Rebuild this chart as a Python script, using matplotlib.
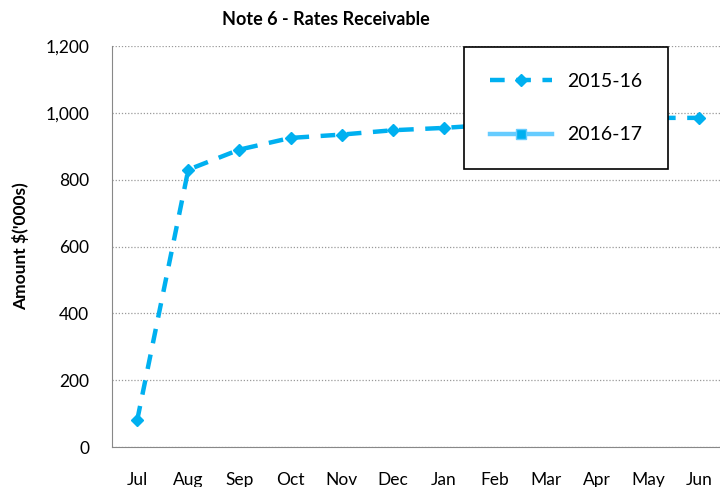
import numpy as np
import matplotlib.pyplot as plt
from matplotlib.ticker import FuncFormatter

months = ["Jul", "Aug", "Sep", "Oct", "Nov", "Dec", "Jan", "Feb", "Mar", "Apr", "May", "Jun"]
rates_1516 = [80, 830, 890, 925, 935, 948, 955, 965, 972, 978, 985, 985]
rates_1617 = [np.nan] * 12  # no data yet

plt.rcParams['font.family'] = ['Lato', 'DejaVu Sans']

fig = plt.figure(figsize=(7.2, 4.87), dpi=100)
ax = fig.add_axes([0.155, 0.082, 0.852, 0.8235])

x = np.arange(len(months))
ax.plot(x, rates_1516, color="#00B0F0", linestyle=(0, (3.3, 2.6)), linewidth=3.2,
        marker="D", markersize=6.5, label="2015-16", zorder=3)
ax.plot(x, rates_1617, color="#66CCFF", linewidth=3.2, marker="s", markersize=7,
        markerfacecolor="#00B0F0", markeredgecolor="#66CCFF", label="2016-17")

ax.set_xlim(-0.5, 11.5)
ax.set_ylim(0, 1200)
ax.set_yticks(range(0, 1201, 200))
ax.yaxis.set_major_formatter(FuncFormatter(lambda v, p: f"{int(v):,}"))
ax.set_xticks(x)
ax.set_xticklabels(months)
ax.tick_params(axis="x", length=0, pad=18, labelsize=12.5)
ax.tick_params(axis="y", length=0, pad=16, labelsize=12.5)

ax.grid(axis="y", linestyle=(0, (1, 1.5)), color="#999999", linewidth=0.9)
ax.set_axisbelow(True)
for s in ["top", "right"]:
    ax.spines[s].set_visible(False)
for s in ["left", "bottom"]:
    ax.spines[s].set_color("#888888")

ax.set_ylabel("Amount $('000s)", fontsize=12.5, fontweight="bold", labelpad=12)
fig.text(0.452, 0.959, "Note 6 - Rates Receivable", ha="center", va="center",
         fontsize=13, fontweight="bold")

leg = ax.legend(loc="upper left", bbox_to_anchor=(0.575, 0.997), fontsize=14,
                frameon=True, fancybox=False, labelspacing=1.9, borderpad=1.3,
                handlelength=3.2, borderaxespad=0)
leg.get_frame().set_edgecolor("black")
leg.get_frame().set_linewidth(1.2)
leg.get_frame().set_alpha(1)

fig.savefig("out.png", dpi=100)
